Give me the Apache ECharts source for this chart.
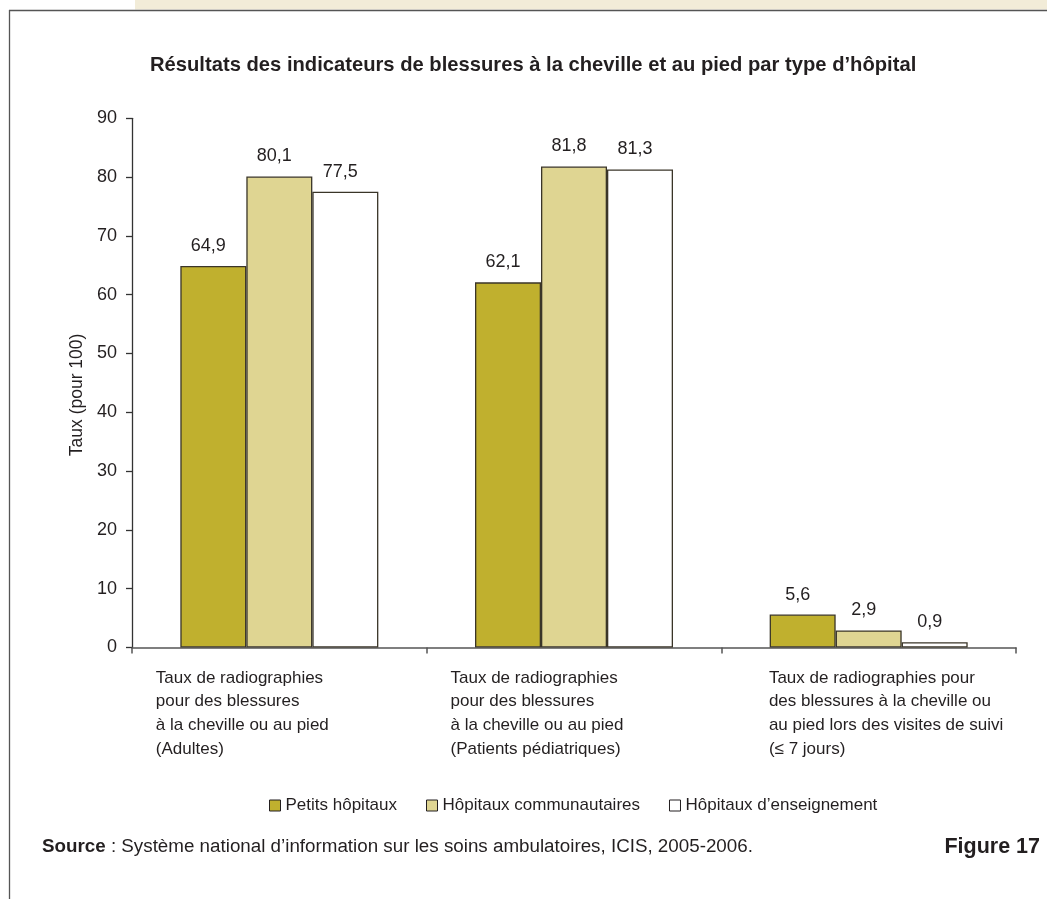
<!DOCTYPE html>
<html>
<head>
<meta charset="utf-8">
<script src="https://cdn.jsdelivr.net/npm/echarts@6/dist/echarts.min.js"></script>
<style>
html,body{margin:0;padding:0;background:#fff;}
#chart{width:1047px;height:899px;}
</style>
</head>
<body>
<div id="chart"></div>
<script>
const categories = [
  "Taux de radiographies\npour des blessures\nà la cheville ou au pied\n(Adultes)",
  "Taux de radiographies\npour des blessures\nà la cheville ou au pied\n(Patients pédiatriques)",
  "Taux de radiographies pour\ndes blessures à la cheville ou\nau pied lors des visites de suivi\n(≤ 7 jours)"
];
const seriesNames = ["Petits hôpitaux", "Hôpitaux communautaires", "Hôpitaux d’enseignement"];
const petits = [64.9, 62.1, 5.6];
const communautaires = [80.1, 81.8, 2.9];
const enseignement = [77.5, 81.3, 0.9];
const yTicks = [0, 10, 20, 30, 40, 50, 60, 70, 80, 90];

const FONT = '"Liberation Sans", Arial, sans-serif';
const colors = ['#C0B02E', '#DFD592', '#FFFFFF'];
const chart = echarts.init(document.getElementById('chart'), null, {renderer: 'canvas'});

function mkSeries(name, data, color) {
  return {
    name: name,
    type: 'bar',
    data: data,
    barWidth: 66,
    barGap: '0%',
    itemStyle: {color: color, borderColor: '#3a3528', borderWidth: 1.3},
    label: {
      show: true,
      position: 'top',
      distance: 11,
      offset: [-5, 0],
      fontFamily: FONT,
      fontSize: 18,
      color: '#231f20',
      formatter: p => p.value.toFixed(1).replace('.', ',')
    },
    emphasis: {disabled: true}
  };
}

chart.setOption({
  animation: false,
  backgroundColor: '#fff',
  textStyle: {fontFamily: FONT},
  title: {
    text: 'Résultats des indicateurs de blessures à la cheville et au pied par type d’hôpital',
    left: 145,
    top: 50,
    textStyle: {fontFamily: FONT, fontWeight: 'bold', fontSize: 20.2, color: '#231f20'}
  },
  grid: {left: 132, right: 31, top: 118.3, bottom: 251.5},
  legend: {
    data: seriesNames,
    left: 264,
    top: 792,
    itemWidth: 11,
    itemHeight: 11,
    itemGap: 29,
    icon: 'rect',
    itemStyle: {borderColor: '#231f20', borderWidth: 1},
    textStyle: {fontFamily: FONT, fontSize: 17, color: '#231f20'}
  },
  xAxis: {
    type: 'category',
    data: categories,
    axisLine: {lineStyle: {color: '#555', width: 1.5}},
    axisTick: {show: true, length: 6, lineStyle: {color: '#555', width: 1.5}},
    axisLabel: {
      interval: 0,
      margin: 18.5,
      align: 'center',
      verticalAlign: 'top',
      formatter: (v, i) => {
        const st = i === 2 ? 'c' : 'a';
        return v.split('\n').map(l => '{' + st + '|' + l + '}').join('\n');
      },
      rich: {
        a: {width: 247, align: 'left', fontFamily: FONT, fontSize: 17, lineHeight: 23.7, color: '#231f20'},
        c: {width: 199.5, align: 'left', fontFamily: FONT, fontSize: 17, lineHeight: 23.7, color: '#231f20'}
      }
    }
  },
  yAxis: {
    type: 'value',
    min: yTicks[0],
    max: yTicks[yTicks.length - 1],
    interval: 10,
    name: 'Taux (pour 100)',
    nameLocation: 'middle',
    nameGap: 46,
    nameRotate: 90,
    nameTextStyle: {fontFamily: FONT, fontSize: 17.5, color: '#231f20', padding: [0, 24, 0, 0]},
    axisLine: {show: true, lineStyle: {color: '#333', width: 1.3}},
    axisTick: {show: true, length: 6, lineStyle: {color: '#333', width: 1.3}},
    splitLine: {show: false},
    axisLabel: {fontFamily: FONT, fontSize: 18, color: '#231f20', margin: 15}
  },
  series: [
    mkSeries(seriesNames[0], petits, colors[0]),
    mkSeries(seriesNames[1], communautaires, colors[1]),
    mkSeries(seriesNames[2], enseignement, colors[2])
  ],
  graphic: [
    {type: 'rect', shape: {x: 135, y: 0, width: 912, height: 9.5}, style: {fill: '#F2ECD8'}, silent: true},
    {type: 'line', shape: {x1: 9, y1: 10.5, x2: 1047, y2: 10.5}, style: {stroke: '#555', lineWidth: 1.3}, silent: true},
    {type: 'line', shape: {x1: 9.5, y1: 10, x2: 9.5, y2: 899}, style: {stroke: '#555', lineWidth: 1.3}, silent: true},
    {
      type: 'text', left: 42, top: 837, silent: true,
      style: {
        text: '{b|Source} : Système national d’information sur les soins ambulatoires, ICIS, 2005-2006.',
        fontFamily: FONT, fontSize: 18.8, fill: '#231f20',
        rich: {b: {fontWeight: 'bold', fontFamily: FONT, fontSize: 18.8, fill: '#231f20'}}
      }
    },
    {
      type: 'text', right: 7, top: 836, silent: true,
      style: {text: 'Figure 17', fontFamily: FONT, fontWeight: 'bold', fontSize: 21.5, fill: '#231f20'}
    }
  ]
});
</script>
</body>
</html>
